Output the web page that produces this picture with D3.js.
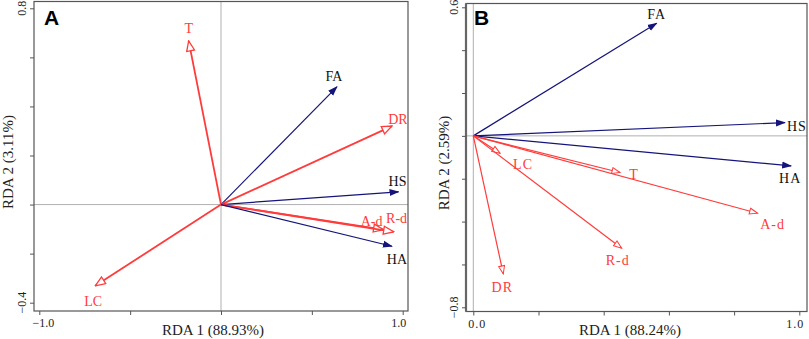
<!DOCTYPE html>
<html>
<head>
<meta charset="utf-8">
<script src="https://cdn.jsdelivr.net/npm/d3@7"></script>
<style>
  body { margin: 0; background: #fff; }
  text { font-family: "Liberation Serif", "Times New Roman", serif; }
</style>
</head>
<body>
<div id="chart"></div>
<script>
// panel A
let namesA = ['T', 'FA', 'DR', 'HS', 'A-d', 'R-d', 'HA', 'LC'];
let rda1A = [-0.178, 0.638, 0.941, 0.977, 0.895, 0.950, 0.941, -0.692];
let rda2A = [0.667, 0.480, 0.320, 0.052, -0.102, -0.111, -0.170, -0.331];
let kindA = ['env', 'resp', 'env', 'resp', 'env', 'env', 'resp', 'env'];
let xTicksA = [-1.0, -0.5, 0, 0.5, 1.0];
let yTicksA = [-0.4, -0.2, 0, 0.2, 0.4, 0.6, 0.8];

// panel B
let namesB = ['FA', 'HS', 'HA', 'LC', 'T', 'A-d', 'R-d', 'DR'];
let rda1B = [0.5625, 0.956, 0.975, 0.082, 0.45, 0.872, 0.455, 0.092];
let rda2B = [0.526, 0.062, -0.14, -0.081, -0.171, -0.361, -0.524, -0.644];
let kindB = ['resp', 'resp', 'resp', 'env', 'env', 'env', 'env', 'env'];
let xTicksB = [0, 0.2, 0.4, 0.6, 0.8, 1.0];
let yTicksB = [-0.8, -0.6, -0.4, -0.2, 0, 0.2, 0.4, 0.6];

const RED = '#ff3b3b', BLUE = '#14147a';

let svg = d3.select('#chart').append('svg')
    .attr('width', 809).attr('height', 339);

let defs = svg.append('defs');
defs.append('marker').attr('id', 'openA')
    .attr('markerUnits', 'userSpaceOnUse')
    .attr('viewBox', '0 0 12 10').attr('refX', 11).attr('refY', 5)
    .attr('markerWidth', 12).attr('markerHeight', 10).attr('orient', 'auto')
  .append('path').attr('d', 'M1,1 L11,5 L1,9 Z')
    .attr('fill', '#fff').attr('stroke', RED).attr('stroke-width', 1.3);
defs.append('marker').attr('id', 'openB')
    .attr('markerUnits', 'userSpaceOnUse')
    .attr('viewBox', '0 0 10 8').attr('refX', 9).attr('refY', 4)
    .attr('markerWidth', 10).attr('markerHeight', 8).attr('orient', 'auto')
  .append('path').attr('d', 'M1,1 L9,4 L1,7 Z')
    .attr('fill', '#fff').attr('stroke', RED).attr('stroke-width', 1);
defs.append('marker').attr('id', 'solid')
    .attr('markerUnits', 'userSpaceOnUse')
    .attr('viewBox', '0 0 10 8').attr('refX', 9).attr('refY', 4)
    .attr('markerWidth', 10).attr('markerHeight', 8).attr('orient', 'auto')
  .append('path').attr('d', 'M0,0.5 L10,4 L0,7.5 Z').attr('fill', BLUE);

// label nudges (px) relative to arrow tip
let nudgeA = {
    'T': [0, -12], 'FA': [-3, -10], 'DR': [6, -6], 'HS': [-1, -10],
    'A-d': [-12, -8], 'R-d': [3, -13], 'HA': [5, 14], 'LC': [-2, 16]
};
let nudgeB = {
    'FA': [0, -8], 'HS': [12, 4], 'HA': [-1, 13], 'LC': [23, 12],
    'T': [14, 2], 'A-d': [15, 12], 'R-d': [-4, 13], 'DR': [-1, 14]
};

function panel(opts) {
    let g = svg.append('g');
    let x = d3.scaleLinear().domain(opts.xd).range(opts.xr);
    let y = d3.scaleLinear().domain(opts.yd).range(opts.yr);
    let f = opts.frame;

    // origin cross lines
    g.append('line').attr('x1', f[0]).attr('x2', f[1]).attr('y1', y(0)).attr('y2', y(0))
        .attr('stroke', '#b0b0b0').attr('stroke-width', 1);
    g.append('line').attr('x1', x(0)).attr('x2', x(0)).attr('y1', f[2]).attr('y2', f[3])
        .attr('stroke', '#b0b0b0').attr('stroke-width', 1);

    // frame
    g.append('rect').attr('x', f[0]).attr('y', f[2])
        .attr('width', f[1] - f[0]).attr('height', f[3] - f[2])
        .attr('fill', 'none').attr('stroke', '#555').attr('stroke-width', 1.2);
    if (opts.thickLeft) {
        g.append('line').attr('x1', f[0]).attr('x2', f[0]).attr('y1', f[2]).attr('y2', f[3])
            .attr('stroke', '#666').attr('stroke-width', 2.2);
    }

    // axes (ticks only)
    g.append('g').attr('transform', `translate(0,${f[3]})`)
        .call(d3.axisBottom(x).tickValues(opts.xt).tickSize(4).tickFormat(''))
        .call(a => a.select('.domain').remove())
        .selectAll('line').attr('stroke', '#555');
    g.append('g').attr('transform', `translate(${f[0]},0)`)
        .call(d3.axisLeft(y).tickValues(opts.yt).tickSize(4).tickFormat(''))
        .call(a => a.select('.domain').remove())
        .selectAll('line').attr('stroke', '#555');

    // end tick labels (first nudged right, last nudged left)
    let xe = [opts.xt[0], opts.xt[opts.xt.length - 1]];
    g.selectAll('.xl').data(xe).enter().append('text')
        .attr('x', (d, i) => x(d) + (i === 0 ? 4 : -4)).attr('y', f[3] + 16)
        .attr('text-anchor', 'middle').attr('font-size', opts.tickFs)
        .attr('letter-spacing', opts.ls).attr('fill', '#222')
        .text(d => d3.format('.1f')(d));
    let ye = [opts.yt[0], opts.yt[opts.yt.length - 1]];
    g.selectAll('.yl').data(ye).enter().append('text')
        .attr('transform', d => `translate(${f[0] - 8},${y(d)}) rotate(-90)`)
        .attr('text-anchor', 'middle').attr('font-size', opts.tickFs)
        .attr('fill', '#222')
        .text(d => d3.format('.1f')(d));

    // axis titles
    g.append('text').attr('x', opts.xTitle[0]).attr('y', opts.xTitle[1])
        .attr('text-anchor', 'middle').attr('font-size', 15).attr('fill', '#222')
        .text(opts.xLab);
    g.append('text')
        .attr('transform', `translate(${opts.yTitle[0]},${opts.yTitle[1]}) rotate(-90)`)
        .attr('text-anchor', 'middle').attr('font-size', 15).attr('fill', '#222')
        .text(opts.yLab);

    // arrows
    let data = opts.names.map((n, i) => ({ n: n, a: opts.r1[i], b: opts.r2[i], k: opts.kind[i] }));
    g.selectAll('.arr').data(data).enter().append('line')
        .attr('x1', x(0)).attr('y1', y(0))
        .attr('x2', d => x(d.a)).attr('y2', d => y(d.b))
        .attr('stroke', d => d.k === 'env' ? RED : BLUE)
        .attr('stroke-width', d => d.k === 'env' ? opts.redW : 1.2)
        .attr('marker-end', d => d.k === 'env' ? `url(#${opts.openId})` : 'url(#solid)');

    g.selectAll('.lab').data(data).enter().append('text')
        .attr('x', d => x(d.a) + opts.nudge[d.n][0])
        .attr('y', d => y(d.b) + opts.nudge[d.n][1] + 4)
        .attr('text-anchor', 'middle').attr('font-size', 14)
        .attr('letter-spacing', opts.ls)
        .attr('fill', d => d.k === 'env' ? RED : '#111')
        .text(d => d.n);

    // panel letter
    g.append('text').attr('x', opts.letterPos[0]).attr('y', opts.letterPos[1])
        .style('font-family', 'Arial, "Liberation Sans", sans-serif')
        .attr('font-weight', 'bold').attr('font-size', 21).attr('fill', '#000')
        .text(opts.letter);
}

panel({
    xd: [-1, 1], xr: [39.3, 402.7], yd: [-0.4, 0.8], yr: [302.7, 8.3],
    frame: [34, 408, 1.5, 311], xt: xTicksA, yt: yTicksA,
    names: namesA, r1: rda1A, r2: rda2A, kind: kindA, nudge: nudgeA,
    xLab: 'RDA 1 (88.93%)', yLab: 'RDA 2 (3.11%)',
    xTitle: [213, 335], yTitle: [13, 162],
    tickFs: 12, ls: 0, redW: 1.8, openId: 'openA',
    letter: 'A', letterPos: [44, 25]
});

panel({
    xd: [0, 1], xr: [473.3, 799.3], yd: [-0.8, 0.6], yr: [307.3, 7.3],
    frame: [466, 807, 3.5, 311.5], xt: xTicksB, yt: yTicksB, thickLeft: true,
    names: namesB, r1: rda1B, r2: rda2B, kind: kindB, nudge: nudgeB,
    xLab: 'RDA 1 (88.24%)', yLab: 'RDA 2 (2.59%)',
    xTitle: [630, 335], yTitle: [449, 163],
    tickFs: 12, ls: 1, redW: 1.2, openId: 'openB',
    letter: 'B', letterPos: [474, 25]
});
</script>
</body>
</html>
